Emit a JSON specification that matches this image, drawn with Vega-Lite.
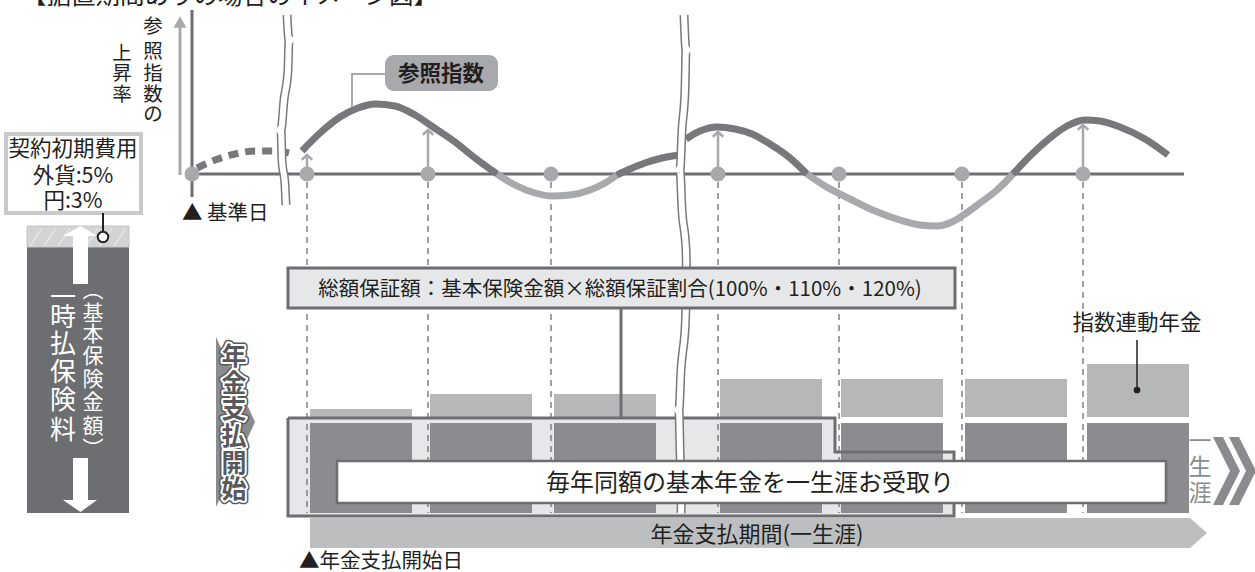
{
"$schema":"https://vega.github.io/schema/vega-lite/v6.json",
"width":1255,"height":572,"padding":0,"autosize":{"type":"none"},
"background":"#ffffff",
"config":{"view":{"stroke":null},"text":{"font":"Noto Sans CJK JP","color":"#231f20"}},
"encoding":{
 "x":{"field":"x","type":"quantitative","scale":{"domain":[0,1255],"nice":false,"zero":false},"axis":null},
 "y":{"field":"y","type":"quantitative","scale":{"domain":[0,572],"nice":false,"zero":false,"reverse":true},"axis":null}
},
"layer":[
 {"data":{"values":[{"x":22,"y":4,"t":"【据置期間ありの場合のイメージ図】"}]},
  "mark":{"type":"text","align":"left","baseline":"alphabetic","fontSize":24.5},
  "encoding":{"text":{"field":"t"}}},
 {"data":{"values":[{"x":180,"y":27,"y2":175}]},
  "mark":{"type":"rule","color":"#a7a9ac","strokeWidth":3},"encoding":{"y2":{"field":"y2"}}},
 {"data":{"values":[{"x":180,"y":22}]},
  "mark":{"type":"point","shape":"triangle-up","filled":true,"color":"#a7a9ac","size":170,"opacity":1}},
 {"data":{"values":[{"x":192,"y":10,"y2":197}]},
  "mark":{"type":"rule","color":"#6d6e71","strokeWidth":3},"encoding":{"y2":{"field":"y2"}}},
 {"data":{"values":[{"x":288,"x2":835,"y":418,"y2":516},{"x":835,"x2":954,"y":452,"y2":516}]},
  "mark":{"type":"rect","color":"#e6e7e8"},"encoding":{"x2":{"field":"x2"},"y2":{"field":"y2"}}},
 {"data":{"values":[{"x":307,"y":182,"y2":513},{"x":428,"y":182,"y2":513},{"x":551,"y":182,"y2":513},{"x":718,"y":182,"y2":513},{"x":839,"y":182,"y2":513},{"x":962,"y":182,"y2":513},{"x":1083,"y":182,"y2":513}]},
  "mark":{"type":"rule","color":"#6d6e71","strokeWidth":1.3,"strokeDash":[6,5]},"encoding":{"y2":{"field":"y2"}}},
 {"data":{"values":[{"x":310,"x2":412,"y":409,"y2":417},{"x":430,"x2":532,"y":394,"y2":417},{"x":554,"x2":656,"y":394,"y2":417},{"x":720,"x2":822,"y":379,"y2":417},{"x":841,"x2":943,"y":379,"y2":417},{"x":965,"x2":1067,"y":379,"y2":417},{"x":1087,"x2":1189,"y":364,"y2":417}]},
  "mark":{"type":"rect","color":"#b6b7b9"},"encoding":{"x2":{"field":"x2"},"y2":{"field":"y2"}}},
 {"data":{"values":[{"x":310,"x2":412,"y":423,"y2":513},{"x":430,"x2":532,"y":423,"y2":513},{"x":554,"x2":656,"y":423,"y2":513},{"x":720,"x2":822,"y":423,"y2":513},{"x":841,"x2":943,"y":423,"y2":513},{"x":965,"x2":1067,"y":423,"y2":513},{"x":1087,"x2":1189,"y":423,"y2":513}]},
  "mark":{"type":"rect","color":"#8b8c8f"},"encoding":{"x2":{"field":"x2"},"y2":{"field":"y2"}}},
 {"data":{"values":[{"i":0,"x":288,"y":418},{"i":1,"x":835,"y":418},{"i":2,"x":835,"y":452},{"i":3,"x":954,"y":452},{"i":4,"x":954,"y":516},{"i":5,"x":288,"y":516},{"i":6,"x":288,"y":418}]},
  "mark":{"type":"line","color":"#6d6e71","strokeWidth":3,"strokeJoin":"miter"},"encoding":{"order":{"field":"i","type":"quantitative"}}},
 {"data":{"values":[{"x":192,"x2":1184,"y":174}]},
  "mark":{"type":"rule","color":"#6d6e71","strokeWidth":3},"encoding":{"x2":{"field":"x2"}}},
 {"data":{"values":[{"x":197,"y":168},{"x":215,"y":160},{"x":235,"y":154},{"x":255,"y":151},{"x":275,"y":151},{"x":293,"y":154}]},
  "mark":{"type":"line","color":"#77787b","strokeWidth":7,"strokeDash":[10,7],"interpolate":"monotone"},"encoding":{}},
 {"data":{"values":[
   {"seg":"s1","tone":"dark","x":302,"y":151},{"seg":"s1","tone":"dark","x":320,"y":133},{"seg":"s1","tone":"dark","x":340,"y":117},{"seg":"s1","tone":"dark","x":358,"y":108},{"seg":"s1","tone":"dark","x":375,"y":104},{"seg":"s1","tone":"dark","x":395,"y":106},{"seg":"s1","tone":"dark","x":415,"y":115},{"seg":"s1","tone":"dark","x":433,"y":127},{"seg":"s1","tone":"dark","x":455,"y":142},{"seg":"s1","tone":"dark","x":475,"y":158},{"seg":"s1","tone":"dark","x":497,"y":174},
   {"seg":"s2","tone":"light","x":497,"y":174},{"seg":"s2","tone":"light","x":515,"y":185},{"seg":"s2","tone":"light","x":535,"y":193},{"seg":"s2","tone":"light","x":552,"y":196},{"seg":"s2","tone":"light","x":570,"y":195},{"seg":"s2","tone":"light","x":590,"y":190},{"seg":"s2","tone":"light","x":605,"y":183},{"seg":"s2","tone":"light","x":617,"y":175},
   {"seg":"s3","tone":"dark","x":617,"y":175},{"seg":"s3","tone":"dark","x":630,"y":169},{"seg":"s3","tone":"dark","x":645,"y":163},{"seg":"s3","tone":"dark","x":662,"y":158},{"seg":"s3","tone":"dark","x":680,"y":155},
   {"seg":"s4","tone":"dark","x":686,"y":139},{"seg":"s4","tone":"dark","x":700,"y":131},{"seg":"s4","tone":"dark","x":717,"y":127},{"seg":"s4","tone":"dark","x":735,"y":129},{"seg":"s4","tone":"dark","x":752,"y":134},{"seg":"s4","tone":"dark","x":770,"y":144},{"seg":"s4","tone":"dark","x":790,"y":158},{"seg":"s4","tone":"dark","x":807,"y":174},
   {"seg":"s5","tone":"light","x":807,"y":174},{"seg":"s5","tone":"light","x":825,"y":186},{"seg":"s5","tone":"light","x":850,"y":199},{"seg":"s5","tone":"light","x":875,"y":211},{"seg":"s5","tone":"light","x":900,"y":220},{"seg":"s5","tone":"light","x":920,"y":225},{"seg":"s5","tone":"light","x":937,"y":226},{"seg":"s5","tone":"light","x":952,"y":222},{"seg":"s5","tone":"light","x":965,"y":214},{"seg":"s5","tone":"light","x":980,"y":203},{"seg":"s5","tone":"light","x":997,"y":190},{"seg":"s5","tone":"light","x":1013,"y":174},
   {"seg":"s6","tone":"dark","x":1013,"y":174},{"seg":"s6","tone":"dark","x":1030,"y":156},{"seg":"s6","tone":"dark","x":1050,"y":138},{"seg":"s6","tone":"dark","x":1067,"y":126},{"seg":"s6","tone":"dark","x":1085,"y":120},{"seg":"s6","tone":"dark","x":1100,"y":121},{"seg":"s6","tone":"dark","x":1120,"y":127},{"seg":"s6","tone":"dark","x":1145,"y":139},{"seg":"s6","tone":"dark","x":1168,"y":155}
  ]},
  "mark":{"type":"line","strokeWidth":7,"interpolate":"monotone"},
  "encoding":{"detail":{"field":"seg"},"color":{"field":"tone","type":"nominal","scale":{"domain":["dark","light"],"range":["#77787b","#a7a9ac"]},"legend":null}}},
 {"data":{"values":[{"x":307,"y":156,"y2":174},{"x":428,"y":131,"y2":174},{"x":718,"y":133,"y2":174},{"x":1083,"y":126,"y2":174}]},
  "mark":{"type":"rule","color":"#a7a9ac","strokeWidth":2.5},"encoding":{"y2":{"field":"y2"}}},
 {"data":{"values":[{"x":307,"y":155},{"x":428,"y":130},{"x":718,"y":132},{"x":1083,"y":125}]},
  "mark":{"type":"point","shape":"M-1,0.9L0,0L1,0.9","filled":false,"color":"#a7a9ac","strokeWidth":2.5,"size":110,"opacity":1}},
 {"data":{"values":[{"x":192,"y":174},{"x":307,"y":174},{"x":428,"y":174},{"x":551,"y":174},{"x":718,"y":174},{"x":839,"y":174},{"x":962,"y":174},{"x":1083,"y":174}]},
  "mark":{"type":"point","shape":"circle","filled":true,"color":"#a7a9ac","size":225,"opacity":1}},
 {"data":{"name":"waves","values":[
   {"id":"w1","x":287,"y":15},{"id":"w1","x":289,"y":40},{"id":"w1","x":288,"y":70},{"id":"w1","x":284,"y":100},{"id":"w1","x":281,"y":130},{"id":"w1","x":282,"y":160},{"id":"w1","x":285,"y":185},{"id":"w1","x":286,"y":205},
   {"id":"w2","x":684,"y":15},{"id":"w2","x":686,"y":50},{"id":"w2","x":685,"y":90},{"id":"w2","x":682,"y":130},{"id":"w2","x":680,"y":170},{"id":"w2","x":682,"y":210},{"id":"w2","x":686,"y":250},{"id":"w2","x":687,"y":290},{"id":"w2","x":685,"y":330},{"id":"w2","x":681,"y":370},{"id":"w2","x":679,"y":410},{"id":"w2","x":680,"y":450},{"id":"w2","x":682,"y":490},{"id":"w2","x":681,"y":513}]},
  "layer":[
   {"mark":{"type":"line","color":"#77787b","strokeWidth":9,"interpolate":"monotone"},"encoding":{"detail":{"field":"id"},"order":{"field":"y","type":"quantitative"}}},
   {"mark":{"type":"line","color":"#ffffff","strokeWidth":6,"interpolate":"monotone"},"encoding":{"detail":{"field":"id"},"order":{"field":"y","type":"quantitative"}}}
  ]},
 {"data":{"values":[{"x":288,"x2":955,"y":268,"y2":308}]},
  "mark":{"type":"rect","fill":"#e6e7e8","stroke":"#6d6e71","strokeWidth":3},"encoding":{"x2":{"field":"x2"},"y2":{"field":"y2"}}},
 {"data":{"values":[{"x":620,"y":289.5,"t":"総額保証額：基本保険金額×総額保証割合(100%・110%・120%)"}]},
  "mark":{"type":"text","align":"center","baseline":"middle","fontSize":20.5},"encoding":{"text":{"field":"t"}}},
 {"data":{"values":[{"x":621,"y":308,"y2":418}]},
  "mark":{"type":"rule","color":"#6d6e71","strokeWidth":3},"encoding":{"y2":{"field":"y2"}}},
 {"data":{"values":[{"x":337,"x2":1166,"y":461,"y2":503}]},
  "mark":{"type":"rect","fill":"#ffffff","stroke":"#6d6e71","strokeWidth":2.5},"encoding":{"x2":{"field":"x2"},"y2":{"field":"y2"}}},
 {"data":{"values":[{"x":750,"y":484,"t":"毎年同額の基本年金を一生涯お受取り"}]},
  "mark":{"type":"text","align":"center","baseline":"middle","fontSize":24},"encoding":{"text":{"field":"t"}}},
 {"data":{"values":[{"x":310,"y":518,"y2":548},{"x":1190,"y":518,"y2":548},{"x":1207,"y":533,"y2":533}]},
  "mark":{"type":"area","color":"#bcbec0","opacity":1},"encoding":{"y2":{"field":"y2"}}},
 {"data":{"values":[{"x":757,"y":534.6,"t":"年金支払期間(一生涯)"}]},
  "mark":{"type":"text","align":"center","baseline":"middle","fontSize":22},"encoding":{"text":{"field":"t"}}},
 {"data":{"values":[{"x":299,"y":562,"t":"▲年金支払開始日"}]},
  "mark":{"type":"text","align":"left","baseline":"middle","fontSize":20.5},"encoding":{"text":{"field":"t"}}},
 {"data":{"values":[{"x":182,"y":213.6,"t":"▲ 基準日"}]},
  "mark":{"type":"text","align":"left","baseline":"middle","fontSize":20.5},"encoding":{"text":{"field":"t"}}},
 {"data":{"values":[{"x":1137,"y":323.7,"t":"指数連動年金"}]},
  "mark":{"type":"text","align":"center","baseline":"middle","fontSize":21.5},"encoding":{"text":{"field":"t"}}},
 {"data":{"values":[{"x":1137,"y":340,"y2":390}]},
  "mark":{"type":"rule","color":"#231f20","strokeWidth":1.5},"encoding":{"y2":{"field":"y2"}}},
 {"data":{"values":[{"x":1137,"y":390}]},
  "mark":{"type":"point","shape":"circle","filled":true,"color":"#231f20","size":45,"opacity":1}},
 {"data":{"values":[{"x":1200,"y":442,"t":"一"},{"x":1200,"y":468,"t":"生"},{"x":1200,"y":494,"t":"涯"}]},
  "mark":{"type":"text","align":"center","baseline":"middle","fontSize":23,"color":"#8a8b8e"},"encoding":{"text":{"field":"t"}}},
 {"data":{"values":[{"c":"a","y":437,"x":1213,"x2":1223},{"c":"a","y":471,"x":1230,"x2":1240},{"c":"a","y":505,"x":1213,"x2":1223},{"c":"b","y":437,"x":1229,"x2":1239},{"c":"b","y":471,"x":1246,"x2":1256},{"c":"b","y":505,"x":1229,"x2":1239}]},
  "mark":{"type":"area","orient":"horizontal","color":"#8a8b8e","opacity":1},"encoding":{"x2":{"field":"x2"},"detail":{"field":"c"}}},
 {"data":{"values":[{"y":337,"x":216,"x2":216},{"y":422,"x":216,"x2":255},{"y":507,"x":216,"x2":216}]},
  "mark":{"type":"area","orient":"horizontal","color":"#8a8b8e","opacity":1},"encoding":{"x2":{"field":"x2"}}},
 {"data":{"name":"kaishi","values":[{"x":234,"y":357,"t":"年"},{"x":234,"y":384,"t":"金"},{"x":234,"y":410,"t":"支"},{"x":234,"y":437,"t":"払"},{"x":234,"y":464,"t":"開"},{"x":234,"y":490,"t":"始"}]},
  "layer":[
   {"mark":{"type":"text","align":"center","baseline":"middle","fontSize":25,"fontWeight":"bold","color":"#58595b","stroke":"#58595b","strokeWidth":7,"strokeJoin":"round"},"encoding":{"text":{"field":"t"}}},
   {"mark":{"type":"text","align":"center","baseline":"middle","fontSize":25,"fontWeight":"bold","color":"#ffffff","stroke":"#ffffff","strokeWidth":4,"strokeJoin":"round"},"encoding":{"text":{"field":"t"}}},
   {"mark":{"type":"text","align":"center","baseline":"middle","fontSize":25,"fontWeight":"bold","color":"#58595b"},"encoding":{"text":{"field":"t"}}}
  ]},
 {"data":{"values":[{"i":0,"x":385,"y":74},{"i":1,"x":352,"y":74},{"i":2,"x":352,"y":107}]},
  "mark":{"type":"line","color":"#a7a9ac","strokeWidth":2},"encoding":{"order":{"field":"i","type":"quantitative"}}},
 {"data":{"values":[{"x":385,"x2":498,"y":55,"y2":91}]},
  "mark":{"type":"rect","color":"#a7a9ac","cornerRadius":9},"encoding":{"x2":{"field":"x2"},"y2":{"field":"y2"}}},
 {"data":{"values":[{"x":441,"y":74.6,"t":"参照指数"}]},
  "mark":{"type":"text","align":"center","baseline":"middle","fontSize":21.5,"fontWeight":"bold"},"encoding":{"text":{"field":"t"}}},
 {"data":{"values":[{"x":153,"y":26.5,"t":"参"},{"x":153,"y":51.5,"t":"照"},{"x":153,"y":73.5,"t":"指"},{"x":153,"y":94.5,"t":"数"},{"x":153,"y":114.5,"t":"の"},{"x":122,"y":53.5,"t":"上"},{"x":122,"y":73.5,"t":"昇"},{"x":122,"y":94.5,"t":"率"}]},
  "mark":{"type":"text","align":"center","baseline":"middle","fontSize":19.5},"encoding":{"text":{"field":"t"}}},
 {"data":{"values":[{"x":6,"x2":141,"y":134,"y2":213}]},
  "mark":{"type":"rect","fill":"#ffffff","stroke":"#c9cacc","strokeWidth":4},"encoding":{"x2":{"field":"x2"},"y2":{"field":"y2"}}},
 {"data":{"values":[{"x":73,"y":149.7,"t":"契約初期費用"},{"x":73,"y":176.7,"t":"外貨:5%"},{"x":73,"y":201.7,"t":"円:3%"}]},
  "mark":{"type":"text","align":"center","baseline":"middle","fontSize":21.5},"encoding":{"text":{"field":"t"}}},
 {"data":{"values":[{"x":27,"x2":129,"y":247,"y2":513}]},
  "mark":{"type":"rect","color":"#6d6e71"},"encoding":{"x2":{"field":"x2"},"y2":{"field":"y2"}}},
 {"data":{"values":[{"x":27,"x2":129,"y":226,"y2":247}]},
  "mark":{"type":"rect","fill":"#d1d3d4","stroke":"#c4c5c7","strokeWidth":1},"encoding":{"x2":{"field":"x2"},"y2":{"field":"y2"}}},
 {"data":{"values":[{"x":30,"x2":42,"y":246,"y2":228},{"x":44,"x2":56,"y":246,"y2":228},{"x":58,"x2":70,"y":246,"y2":228},{"x":72,"x2":84,"y":246,"y2":228},{"x":86,"x2":98,"y":246,"y2":228},{"x":100,"x2":112,"y":246,"y2":228},{"x":114,"x2":126,"y":246,"y2":228}]},
  "mark":{"type":"rule","color":"#e4e5e6","strokeWidth":1.5},"encoding":{"x2":{"field":"x2"},"y2":{"field":"y2"}}},
 {"data":{"values":[{"x":73,"x2":88,"y":234,"y2":284},{"x":73,"x2":88,"y":458,"y2":501}]},
  "mark":{"type":"rect","color":"#ffffff"},"encoding":{"x2":{"field":"x2"},"y2":{"field":"y2"}}},
 {"data":{"values":[{"a":"u","x":63,"y":236,"y2":236},{"a":"u","x":80.5,"y":226,"y2":236},{"a":"u","x":97,"y":236,"y2":236},{"a":"d","x":63,"y":500,"y2":500},{"a":"d","x":80.5,"y":500,"y2":512},{"a":"d","x":97,"y":500,"y2":500}]},
  "mark":{"type":"area","color":"#ffffff","opacity":1},"encoding":{"y2":{"field":"y2"},"detail":{"field":"a"}}},
 {"data":{"values":[{"x":63,"y":298,"t":"一"},{"x":63,"y":318,"t":"時"},{"x":63,"y":345,"t":"払"},{"x":63,"y":373,"t":"保"},{"x":63,"y":401,"t":"険"},{"x":63,"y":431,"t":"料"}]},
  "mark":{"type":"text","align":"center","baseline":"middle","fontSize":26,"color":"#ffffff"},"encoding":{"text":{"field":"t"}}},
 {"data":{"values":[{"x":93,"y":291,"t":"︵"},{"x":93,"y":313.7,"t":"基"},{"x":93,"y":334.7,"t":"本"},{"x":93,"y":356.7,"t":"保"},{"x":93,"y":379.7,"t":"険"},{"x":93,"y":402.7,"t":"金"},{"x":93,"y":426.7,"t":"額"},{"x":93,"y":450,"t":"︶"}]},
  "mark":{"type":"text","align":"center","baseline":"middle","fontSize":21,"color":"#ffffff"},"encoding":{"text":{"field":"t"}}},
 {"data":{"values":[{"x":103,"y":213,"y2":232}]},
  "mark":{"type":"rule","color":"#231f20","strokeWidth":2},"encoding":{"y2":{"field":"y2"}}},
 {"data":{"values":[{"x":103,"y":237}]},
  "mark":{"type":"point","shape":"circle","filled":true,"fill":"#ffffff","stroke":"#231f20","strokeWidth":2,"size":110,"opacity":1}}
]
}
